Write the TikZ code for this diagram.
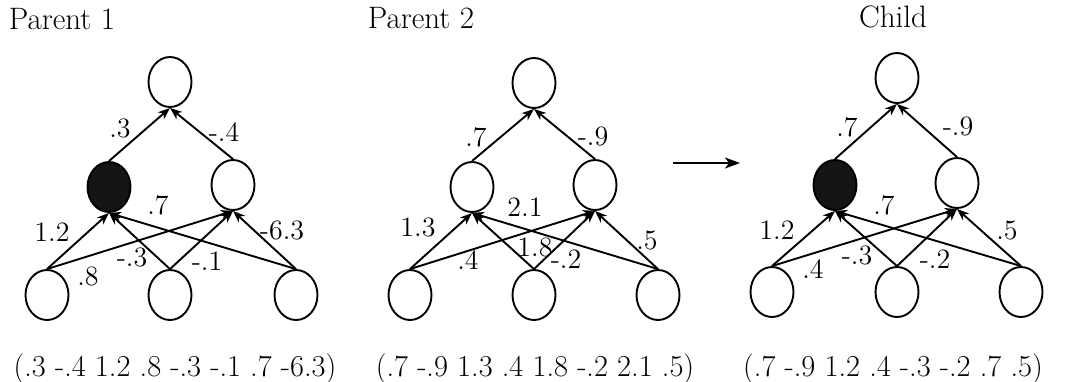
\documentclass[tikz,border=0pt]{standalone}
\usepackage{fontspec}
\usetikzlibrary{shapes.geometric,arrows.meta}
\begin{document}
\begin{tikzpicture}[x=0.5pt,y=-0.5pt,
  unit/.style={draw,ellipse,line width=0.95pt,minimum width=21.5pt,minimum height=25pt,inner sep=0pt},
  hot/.style={unit,fill=black!92},
  conn/.style={line width=0.95pt,-{Stealth[length=6pt,width=4.6pt,inset=1.8pt]}},
  wt/.style={inner sep=0pt,font=\fontsize{14}{16}\selectfont,text height=9.3pt,text depth=0pt},
  title/.style={inner sep=0pt,font=\fontsize{15.5}{18}\selectfont},
  vec/.style={inner sep=0pt,font=\fontsize{15.2}{18}\selectfont,text height=10pt,text depth=0pt}]
\useasboundingbox (0,0) rectangle (1069,381);

% ---------- Parent 1 ----------
\node[title] (t1) at (62,19) {Parent 1};
\node[unit] (a0) at (170,82) {};
\node[hot]  (a1) at (109,187) {};
\node[unit] (a2) at (233,185) {};
\node[unit] (a3) at (47,295) {};
\node[unit] (a4) at (170,295) {};
\node[unit] (a5) at (296,295) {};
\draw[conn] (a1.north) -- (a0.south);
\draw[conn] (a2.north) -- (a0.south);
\foreach \s in {a3,a4,a5}{
  \draw[conn] (\s.north) -- (a1.south);
  \draw[conn] (\s.north) -- (a2.south);
}
\node[wt] (w1a) at (120,128) {.3};
\node[wt] (w1b) at (224,132) {-.4};
\node[wt] (w1c) at (52,232) {1.2};
\node[wt] (w1d) at (158,205) {.7};
\node[wt] (w1e) at (282,230) {-6.3};
\node[wt] (w1f) at (132,257) {-.3};
\node[wt] (w1g) at (207,261) {-.1};
\node[wt] (w1h) at (88,276) {.8};
\node[vec] (v1) at (175,366) {(.3 -.4 1.2 .8 -.3 -.1 .7 -6.3)};

% ---------- Parent 2 ----------
\node[title] (t2) at (421,18) {Parent 2};
\node[unit] (b0) at (534,83) {};
\node[unit] (b1) at (472,187) {};
\node[unit] (b2) at (595,185) {};
\node[unit] (b3) at (410,295) {};
\node[unit] (b4) at (534,295) {};
\node[unit] (b5) at (658,295) {};
\draw[conn] (b1.north) -- (b0.south);
\draw[conn] (b2.north) -- (b0.south);
\foreach \s in {b3,b4,b5}{
  \draw[conn] (\s.north) -- (b1.south);
  \draw[conn] (\s.north) -- (b2.south);
}
\node[wt] (w2a) at (476,137) {.7};
\node[wt] (w2b) at (593,136) {-.9};
\node[wt] (w2c) at (418,227) {1.3};
\node[wt] (w2d) at (525,207) {2.1};
\node[wt] (w2e) at (535,247) {1.8};
\node[wt] (w2f) at (647,240) {.5};
\node[wt] (w2g) at (468,260) {.4};
\node[wt] (w2h) at (566,259) {-.2};
\node[vec] (v2) at (535,366) {(.7 -.9 1.3 .4 1.8 -.2 2.1 .5)};

% ---------- arrow ----------
\coordinate (p) at (673,163);
\coordinate (q) at (740,163);
\draw[line width=0.95pt,-{Stealth[length=7.5pt,width=5.5pt,inset=2pt]}] (p) -- (q);

% ---------- Child ----------
\node[title] (t3) at (893,17) {Child};
\node[unit] (c0) at (897,78) {};
\node[hot]  (c1) at (835,185) {};
\node[unit] (c2) at (957,183) {};
\node[unit] (c3) at (772,292) {};
\node[unit] (c4) at (897,292) {};
\node[unit] (c5) at (1021,292) {};
\draw[conn] (c1.north) -- (c0.south);
\draw[conn] (c2.north) -- (c0.south);
\foreach \s in {c3,c4,c5}{
  \draw[conn] (\s.north) -- (c1.south);
  \draw[conn] (\s.north) -- (c2.south);
}
\node[wt] (w3a) at (847,127) {.7};
\node[wt] (w3b) at (958,126) {-.9};
\node[wt] (w3c) at (777,230) {1.2};
\node[wt] (w3d) at (884,205) {.7};
\node[wt] (w3e) at (1007,230) {.5};
\node[wt] (w3f) at (857,255) {-.3};
\node[wt] (w3g) at (935,259) {-.2};
\node[wt] (w3h) at (813,269) {.4};
\node[vec] (v3) at (893,366) {(.7 -.9 1.2 .4 -.3 -.2 .7 .5)};
\end{tikzpicture}
\end{document}
